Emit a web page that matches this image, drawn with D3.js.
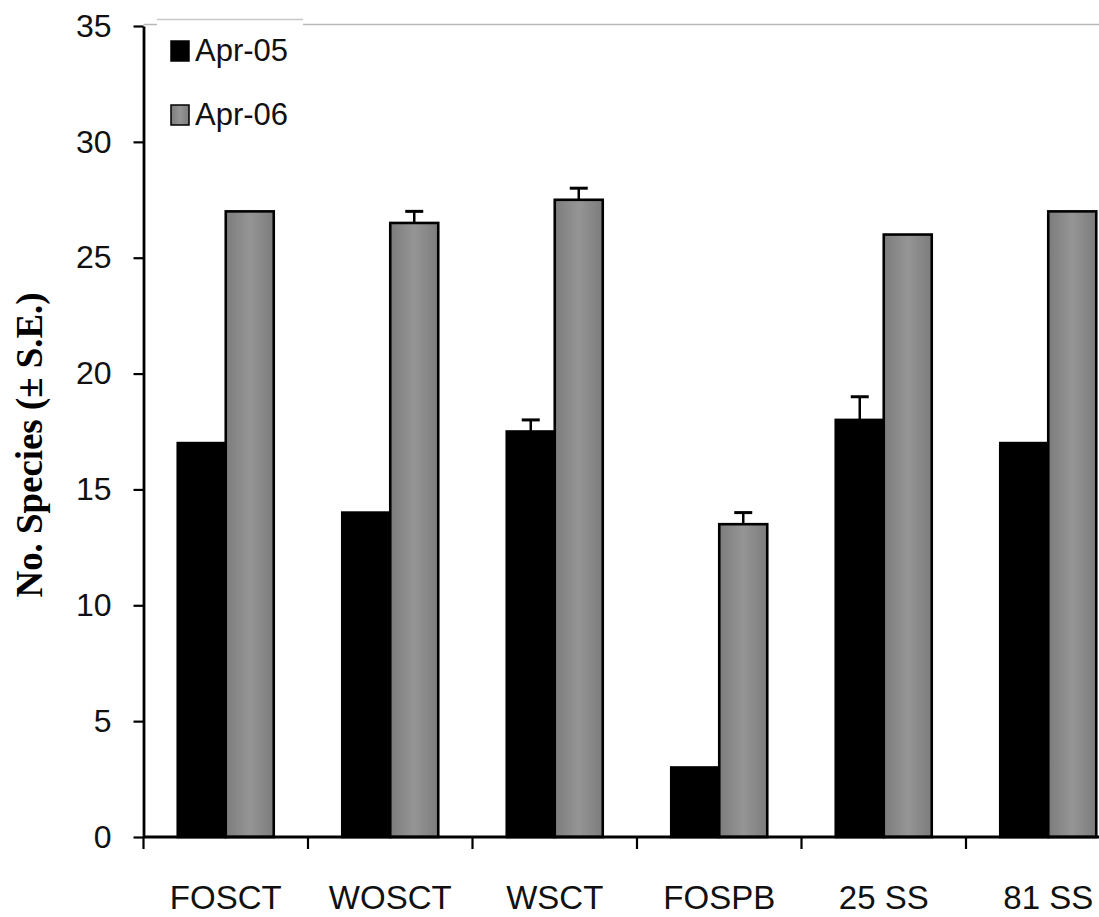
<!DOCTYPE html>
<html>
<head>
<meta charset="utf-8">
<script src="https://cdn.jsdelivr.net/npm/d3@7"></script>
<style>
  body { margin: 0; background: #fff; }
  svg { display: block; }
</style>
</head>
<body>
<div id="chart"></div>
<script>
// data
const sites = ['FOSCT', 'WOSCT', 'WSCT', 'FOSPB', '25 SS', '81 SS'];
const seriesNames = ['Apr-05', 'Apr-06'];
const apr05 = [17, 14, 17.5, 3, 18, 17];
const apr05se = [0, 0, 0.5, 0, 1, 0];
const apr06 = [27, 26.5, 27.5, 13.5, 26, 27];
const apr06se = [0, 0.5, 0.5, 0.5, 0, 0];
const yTicks = [0, 5, 10, 15, 20, 25, 30, 35];

const width = 1099, height = 917;
const plotLeft = 143.5, plotTop = 26, plotBottom = 837;
const groupW = 164.5;

const rows = sites.map((s, i) => ({
  site: s,
  vals: [
    { key: 'Apr-05', v: apr05[i], se: apr05se[i] },
    { key: 'Apr-06', v: apr06[i], se: apr06se[i] }
  ]
}));

const svg = d3.select('#chart').append('svg')
  .attr('width', width)
  .attr('height', height);

const defs = svg.append('defs');
const grad = defs.append('linearGradient').attr('id', 'greyBar')
  .attr('x1', '0%').attr('x2', '100%').attr('y1', '0%').attr('y2', '0%');
grad.append('stop').attr('offset', '0%').attr('stop-color', '#7c7c7c');
grad.append('stop').attr('offset', '50%').attr('stop-color', '#959595');
grad.append('stop').attr('offset', '100%').attr('stop-color', '#7c7c7c');

const x0 = d3.scaleBand()
  .domain(sites)
  .range([plotLeft, plotLeft + groupW * sites.length])
  .padding(0);

const barW = 48;
const x1 = d3.scaleBand()
  .domain(seriesNames)
  .range([(x0.bandwidth() - 2 * barW) / 2, (x0.bandwidth() + 2 * barW) / 2]);

const y = d3.scaleLinear().domain([0, 35]).range([plotBottom, plotTop]);

const fills = { 'Apr-05': '#000', 'Apr-06': 'url(#greyBar)' };

// faint plot frame on top
svg.append('line')
  .attr('x1', plotLeft).attr('x2', width)
  .attr('y1', 24.5).attr('y2', 24.5)
  .attr('stroke', '#b8b8b8').attr('stroke-width', 1.5);

// bars
const g = svg.append('g');
const groups = g.selectAll('g.site')
  .data(rows)
  .join('g')
  .attr('class', 'site')
  .attr('transform', d => `translate(${x0(d.site)},0)`);

groups.selectAll('rect')
  .data(d => d.vals)
  .join('rect')
  .attr('x', d => x1(d.key))
  .attr('y', d => y(d.v))
  .attr('width', x1.bandwidth())
  .attr('height', d => y(0) - y(d.v))
  .attr('fill', d => fills[d.key])
  .attr('stroke', '#000')
  .attr('stroke-width', 2.6);

// error bars (upper only)
const err = groups.selectAll('g.err')
  .data(d => d.vals.filter(v => v.se > 0))
  .join('g')
  .attr('class', 'err');

err.append('line')
  .attr('x1', d => x1(d.key) + x1.bandwidth() / 2)
  .attr('x2', d => x1(d.key) + x1.bandwidth() / 2)
  .attr('y1', d => y(d.v))
  .attr('y2', d => y(d.v + d.se))
  .attr('stroke', '#000').attr('stroke-width', 2.5);

err.append('line')
  .attr('x1', d => x1(d.key) + x1.bandwidth() / 2 - 9)
  .attr('x2', d => x1(d.key) + x1.bandwidth() / 2 + 9)
  .attr('y1', d => y(d.v + d.se))
  .attr('y2', d => y(d.v + d.se))
  .attr('stroke', '#000').attr('stroke-width', 3);

// y axis
const yAxis = svg.append('g')
  .attr('transform', `translate(${plotLeft},0)`)
  .call(d3.axisLeft(y).tickValues(yTicks).tickSize(10).tickPadding(22).tickSizeOuter(0));
yAxis.select('.domain').attr('stroke', '#000').attr('stroke-width', 2.8);
yAxis.selectAll('.tick line').attr('stroke', '#000').attr('stroke-width', 2.2);
yAxis.selectAll('text')
  .attr('font-family', 'Liberation Sans, Arial, sans-serif')
  .attr('font-size', 32)
  .attr('fill', '#111');

// x axis with ticks on the category boundaries
const xAxis = svg.append('g').attr('transform', `translate(0,${plotBottom})`);
xAxis.append('line')
  .attr('x1', plotLeft).attr('x2', x0.range()[1])
  .attr('stroke', '#000').attr('stroke-width', 2.8);
xAxis.selectAll('line.tk')
  .data(sites)
  .join('line')
  .attr('class', 'tk')
  .attr('x1', d => x0(d)).attr('x2', d => x0(d))
  .attr('y1', 0).attr('y2', 12)
  .attr('stroke', '#000').attr('stroke-width', 2.2);
xAxis.selectAll('text')
  .data(sites)
  .join('text')
  .attr('x', d => x0(d) + x0.bandwidth() / 2)
  .attr('y', 72)
  .attr('text-anchor', 'middle')
  .attr('font-family', 'Liberation Sans, Arial, sans-serif')
  .attr('font-size', 33)
  .attr('fill', '#111')
  .text(d => d);

// y label
svg.append('text')
  .attr('transform', 'translate(42,445) rotate(-90)')
  .attr('text-anchor', 'middle')
  .attr('font-family', 'Liberation Serif, Times New Roman, serif')
  .attr('font-weight', 'bold')
  .attr('font-size', 38)
  .attr('textLength', 305)
  .attr('lengthAdjust', 'spacingAndGlyphs')
  .text('No. Species (\u00b1 S.E.)');

// legend
const leg = svg.append('g');
leg.append('rect')
  .attr('x', 157).attr('y', 19.5).attr('width', 146).attr('height', 120)
  .attr('fill', '#fff');
leg.append('line')
  .attr('x1', 157).attr('x2', 303).attr('y1', 19.5).attr('y2', 19.5)
  .attr('stroke', '#c8c8c8').attr('stroke-width', 1.5);
const items = leg.selectAll('g.item')
  .data(seriesNames)
  .join('g')
  .attr('class', 'item')
  .attr('transform', (d, i) => `translate(171,${41 + i * 64})`);
items.append('rect')
  .attr('width', 18).attr('height', 20)
  .attr('fill', d => fills[d])
  .attr('stroke', '#000').attr('stroke-width', 1.5);
items.append('text')
  .attr('x', 24).attr('y', 20)
  .attr('font-family', 'Liberation Sans, Arial, sans-serif')
  .attr('font-size', 31)
  .attr('fill', '#111')
  .text(d => d);
</script>
</body>
</html>
